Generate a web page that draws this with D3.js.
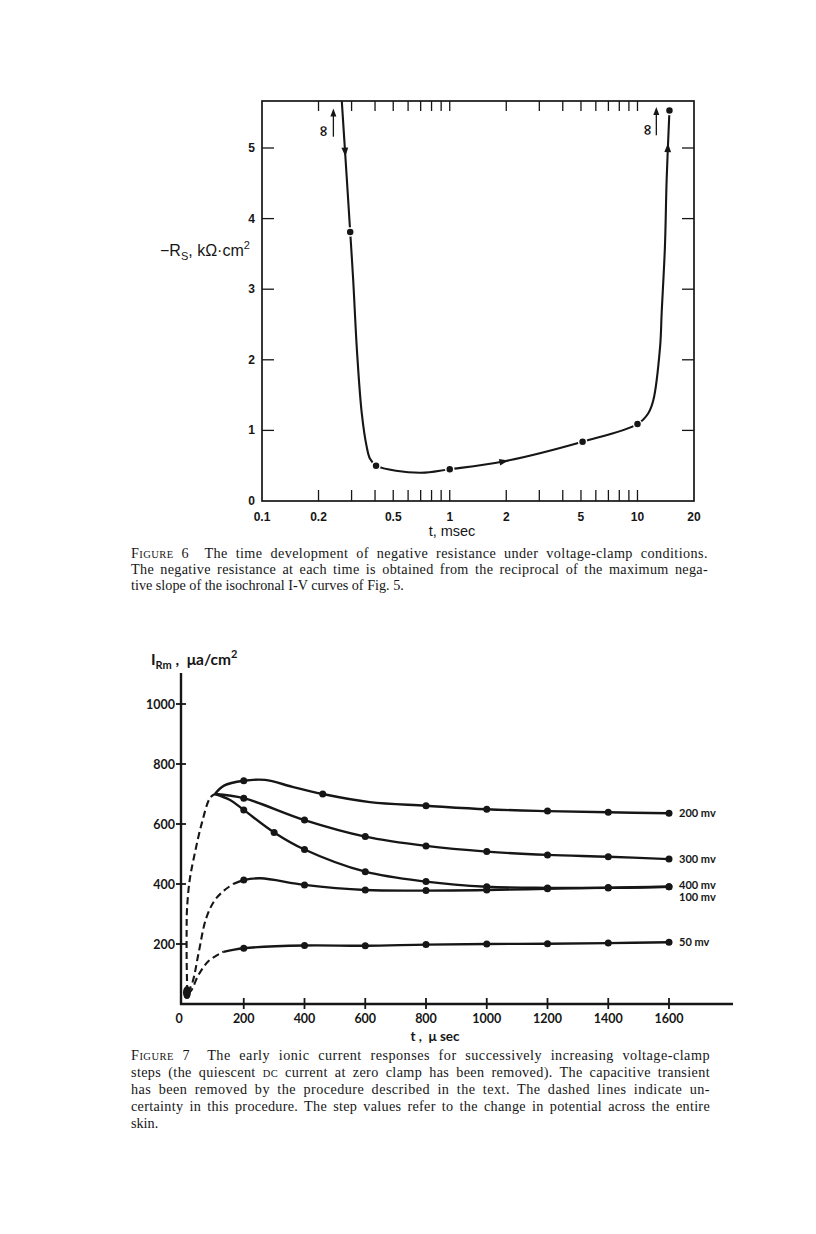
<!DOCTYPE html>
<html>
<head>
<meta charset="utf-8">
<script src="https://cdn.jsdelivr.net/npm/d3@7"></script>
<style>
body { margin: 0; background: #fff; }
svg { display: block; }
</style>
</head>
<body>
<div id="page"></div>
<script>
// ---------- Figure 6 : -Rs (kOhm.cm2) against t (msec), log axis
const f6XLabels = [0.1, 0.2, 0.5, 1, 2, 5, 10, 20];
const f6XMinor = [0.2, 0.3, 0.4, 0.5, 0.6, 0.7, 0.8, 0.9, 1, 2, 3, 4, 5, 6, 7, 8, 9, 10];
const f6YLabels = [0, 1, 2, 3, 4, 5];
const f6Dots = [[0.295, 3.81], [0.405, 0.50], [1.0, 0.45], [5.1, 0.84], [10, 1.09], [14.8, 5.53]];
// extra points
const f6Bends = [[0.266, 5.67], [0.281, 4.69], [0.306, 3.13], [0.321, 2.1], [0.340, 1.24],
  [0.361, 0.77], [0.376, 0.60], [0.694, 0.40], [1.93, 0.56], [11.4, 1.24], [12.15, 1.43],
  [13.2, 2.19], [13.45, 2.66], [14.0, 3.6], [14.3, 4.55]];
const f6Arrows = [[0.276, 4.95], [1.93, 0.56], [14.6, 5.0]];
const f6Infinity = [[0.211, 5.24], [11.2, 5.26]];
const f6InfArrows = [[0.24, 5.16, 5.56], [12.6, 5.18, 5.58]];

// ---------- Figure 7 : I_Rm (ua/cm2) against t (usec)
const f7XTicks = [200, 400, 600, 800, 1000, 1200, 1400, 1600];
const f7XLabels = [0, 200, 400, 600, 800, 1000, 1200, 1400, 1600];
const f7YTicks = [200, 400, 600, 800, 1000];
const stepNames = ['200 mv', '300 mv', '400 mv', '100 mv', '50 mv'];
const dots200 = [[200, 744], [460, 700], [800, 661], [1000, 649], [1200, 643], [1400, 639], [1600, 636]];
const bend200 = [[105, 700], [135, 728], [270, 747], [360, 724], [615, 673]];
const dots300 = [[200, 686], [400, 613], [600, 558], [800, 527], [1000, 508], [1200, 497], [1400, 491], [1600, 483]];
const bend300 = [[105, 700]];
const dots400 = [[200, 647], [300, 572], [400, 515], [600, 441], [800, 408], [1000, 391], [1200, 387], [1400, 387], [1600, 391]];
const bend400 = [[105, 700], [155, 680]];
const dots100 = [[200, 413], [400, 397], [600, 380], [800, 378], [1000, 380], [1200, 384], [1400, 388], [1600, 391]];
const bend100 = [[165, 400], [255, 419]];
const dots50 = [[200, 186], [400, 195], [600, 194], [800, 198], [1000, 200], [1200, 201], [1400, 203], [1600, 206]];
const bend50 = [[133, 174]];
// dashed (uncertain) early parts
const dashPeak = [[14, 40], [12, 150], [12, 250], [13, 313], [22, 413], [39, 503], [62, 603], [89, 687], [105, 700]];
const dash100 = [[16, 38], [32, 75], [51, 168], [76, 285], [104, 345], [135, 378], [165, 400]];
const dash50 = [[16, 36], [27, 45], [51, 97], [85, 144], [133, 174]];
const originBlob = [13, 38];

const W = 816, H = 1234;
const svg = d3.select('#page').append('svg').attr('width', W).attr('height', H);
svg.append('rect').attr('width', W).attr('height', H).attr('fill', '#fff');

const INK = '#161616';
const SANS = '"Liberation Sans", Arial, sans-serif';
const BOLD = 'Lato, "DejaVu Sans", sans-serif';
const SERIF = '"Liberation Serif", "Times New Roman", serif';

const merge = (a, b) => a.concat(b).sort((p, q) => p[0] - q[0]);

// arrowhead placed on a path, pointing along it
function arrowOn(g, path, px, py) {
  const node = path.node(), len = node.getTotalLength();
  let best = 0, bd = Infinity;
  for (let l = 0; l <= len; l += 0.5) {
    const p = node.getPointAtLength(l);
    const d = (p.x - px) ** 2 + (p.y - py) ** 2;
    if (d < bd) { bd = d; best = l; }
  }
  const p = node.getPointAtLength(best);
  const a = node.getPointAtLength(Math.max(0, best - 3));
  const b = node.getPointAtLength(Math.min(len, best + 3));
  const ang = Math.atan2(b.y - a.y, b.x - a.x) * 180 / Math.PI;
  g.append('path').attr('d', 'M5,0L-4,-3.4L-4,3.4Z').attr('fill', INK)
    .attr('transform', `translate(${p.x},${p.y}) rotate(${ang})`);
}

// ================= FIGURE 6 =================
const x6 = d3.scaleLog().domain([0.1, 20]).range([262, 694]);
const y6 = d3.scaleLinear().domain([0, 5]).range([501, 148]);
const f6Top = 101;
const g6 = svg.append('g');

svg.append('defs').append('clipPath').attr('id', 'clip6')
  .append('rect').attr('x', x6(0.1)).attr('y', f6Top).attr('width', x6(20) - x6(0.1)).attr('height', y6(0) - f6Top);

g6.append('rect')
  .attr('x', x6(0.1)).attr('y', f6Top)
  .attr('width', x6(20) - x6(0.1)).attr('height', y6(0) - f6Top)
  .attr('fill', 'none').attr('stroke', INK).attr('stroke-width', 1.7);

// minor ticks, bottom (up) and top (down)
g6.selectAll('.tb').data(f6XMinor).enter().append('line')
  .attr('x1', d => x6(d)).attr('x2', d => x6(d))
  .attr('y1', y6(0)).attr('y2', y6(0) - 11)
  .attr('stroke', INK).attr('stroke-width', 1.3);
g6.selectAll('.tt').data(f6XMinor).enter().append('line')
  .attr('x1', d => x6(d)).attr('x2', d => x6(d))
  .attr('y1', f6Top).attr('y2', f6Top + 10)
  .attr('stroke', INK).attr('stroke-width', 1.3);
// y ticks, left and right, inward
g6.selectAll('.yl').data(f6YLabels.slice(1)).enter().append('line')
  .attr('x1', x6(0.1)).attr('x2', x6(0.1) + 12)
  .attr('y1', d => y6(d)).attr('y2', d => y6(d))
  .attr('stroke', INK).attr('stroke-width', 1.3);
g6.selectAll('.yr').data(f6YLabels.slice(1)).enter().append('line')
  .attr('x1', x6(20)).attr('x2', x6(20) - 12)
  .attr('y1', d => y6(d)).attr('y2', d => y6(d))
  .attr('stroke', INK).attr('stroke-width', 1.3);

g6.selectAll('.xlab').data(f6XLabels).enter().append('text')
  .attr('x', d => x6(d)).attr('y', 521)
  .attr('text-anchor', 'middle').attr('font-family', SANS).attr('font-weight', 'bold')
  .attr('font-size', 12).attr('fill', INK)
  .text(d => d);
g6.selectAll('.ylab').data(f6YLabels).enter().append('text')
  .attr('x', x6(0.1) - 7).attr('y', d => y6(d) + 4)
  .attr('text-anchor', 'end').attr('font-family', SANS).attr('font-weight', 'bold')
  .attr('font-size', 12).attr('fill', INK)
  .text(d => d);

g6.append('text').attr('x', 452).attr('y', 536).attr('text-anchor', 'middle')
  .attr('font-family', SANS).attr('font-size', 14.5).attr('fill', INK).text('t, msec');

const yl6 = g6.append('text').attr('x', 160).attr('y', 256)
  .attr('font-family', SANS).attr('font-size', 16).attr('fill', INK);
yl6.append('tspan').text('\u2212R');
yl6.append('tspan').attr('font-size', 11).attr('dy', 4).text('S');
yl6.append('tspan').attr('dy', -4).text(', k\u03a9\u00b7cm');
yl6.append('tspan').attr('font-size', 11).attr('dy', -7).text('2');

// curve
const line6 = d3.line().x(d => x6(d[0])).y(d => y6(d[1])).curve(d3.curveCatmullRom.alpha(0.5));
const curve6 = g6.append('path').datum(merge(f6Dots, f6Bends))
  .attr('d', line6).attr('clip-path', 'url(#clip6)')
  .attr('fill', 'none').attr('stroke', INK).attr('stroke-width', 2.1);
f6Arrows.forEach(d => arrowOn(g6, curve6, x6(d[0]), y6(d[1])));

g6.selectAll('.dot').data(f6Dots).enter().append('circle')
  .attr('cx', d => x6(d[0])).attr('cy', d => y6(d[1])).attr('r', 4)
  .attr('fill', INK).attr('stroke', '#fff').attr('stroke-width', 1.5);

// infinity marks with upward arrows
g6.selectAll('.inf').data(f6Infinity).enter().append('text')
  .attr('transform', d => `translate(${x6(d[0])},${y6(d[1])}) rotate(-90)`)
  .attr('text-anchor', 'middle').attr('dy', 5)
  .attr('font-family', '"DejaVu Sans", sans-serif').attr('font-weight', 'bold').attr('font-size', 15)
  .attr('fill', INK).text('\u221e');
f6InfArrows.forEach(d => {
  const x = x6(d[0]);
  g6.append('line').attr('x1', x).attr('x2', x).attr('y1', y6(d[1])).attr('y2', y6(d[2]) + 5)
    .attr('stroke', INK).attr('stroke-width', 1.3);
  g6.append('path').attr('d', `M${x},${y6(d[2])}l-3,8h6z`).attr('fill', INK);
});

// ================= FIGURE 7 =================
const x7 = d3.scaleLinear().domain([0, 1600]).range([183, 669]);
const y7 = d3.scaleLinear().domain([0, 1000]).range([1004, 704]);
const g7 = svg.append('g');
const axX = 181, axTop = 673, axRight = 733;

g7.append('line').attr('x1', axX).attr('x2', axX).attr('y1', axTop).attr('y2', y7(0) + 1)
  .attr('stroke', INK).attr('stroke-width', 2.4);
g7.append('line').attr('x1', axX - 1).attr('x2', axRight).attr('y1', y7(0)).attr('y2', y7(0))
  .attr('stroke', INK).attr('stroke-width', 2.4);

g7.selectAll('.yt').data(f7YTicks).enter().append('line')
  .attr('x1', axX - 5).attr('x2', axX + 5).attr('y1', d => y7(d)).attr('y2', d => y7(d))
  .attr('stroke', INK).attr('stroke-width', 1.8);
g7.selectAll('.xt').data(f7XTicks).enter().append('line')
  .attr('x1', d => x7(d)).attr('x2', d => x7(d)).attr('y1', y7(0) - 6).attr('y2', y7(0) + 5)
  .attr('stroke', INK).attr('stroke-width', 1.8);

g7.selectAll('.ylab').data(f7YTicks).enter().append('text')
  .attr('x', axX - 6).attr('y', d => y7(d) + 4.5).attr('text-anchor', 'end')
  .attr('font-family', BOLD).attr('font-weight', 'bold').attr('font-size', 12.5).attr('fill', INK)
  .text(d => d);
g7.selectAll('.xlab').data(f7XLabels).enter().append('text')
  .attr('x', d => d === 0 ? x7(d) - 4 : x7(d)).attr('y', 1023).attr('text-anchor', 'middle')
  .attr('font-family', BOLD).attr('font-weight', 'bold').attr('font-size', 12.5).attr('fill', INK)
  .text(d => d);

g7.append('text').attr('x', 435).attr('y', 1041).attr('text-anchor', 'middle')
  .attr('font-family', BOLD).attr('font-weight', 'bold').attr('font-size', 13.5).attr('fill', INK)
  .attr('xml:space', 'preserve').text('t ,  \u03bc sec');

const yl7 = g7.append('text').attr('x', 151).attr('y', 665)
  .attr('font-family', BOLD).attr('font-weight', 'bold').attr('font-size', 15.5).attr('fill', INK)
  .attr('xml:space', 'preserve');
yl7.append('tspan').text('I');
yl7.append('tspan').attr('font-size', 11).attr('dy', 4).text('Rm');
yl7.append('tspan').attr('dy', -4).text(' ,  \u03bca/cm');
yl7.append('tspan').attr('font-size', 11).attr('dy', -7).text('2');

const line7 = d3.line().x(d => x7(d[0])).y(d => y7(d[1])).curve(d3.curveCatmullRom.alpha(0.5));
const series = [
  { dots: dots200, bends: bend200 },
  { dots: dots300, bends: bend300 },
  { dots: dots400, bends: bend400 },
  { dots: dots100, bends: bend100 },
  { dots: dots50, bends: bend50 }
];
[dashPeak, dash100, dash50].forEach(d => {
  g7.append('path').datum(d).attr('d', line7)
    .attr('fill', 'none').attr('stroke', INK).attr('stroke-width', 2.1)
    .attr('stroke-dasharray', '7,4');
});
g7.append('ellipse').attr('cx', x7(originBlob[0])).attr('cy', y7(originBlob[1]))
  .attr('rx', 4).attr('ry', 6.5).attr('fill', INK);

series.forEach(s => {
  g7.append('path').datum(merge(s.dots, s.bends)).attr('d', line7)
    .attr('fill', 'none').attr('stroke', INK).attr('stroke-width', 2.4);
  g7.selectAll(null).data(s.dots).enter().append('circle')
    .attr('cx', d => x7(d[0])).attr('cy', d => y7(d[1])).attr('r', 3.5).attr('fill', INK);
});

// step labels next to the last points
const labelYs = [dots200, dots300, dots400, dots100, dots50].map(d => d[d.length - 1][1]);
const labelDy = [4, 4, 2.5, 14, 4];
g7.selectAll('.step').data(stepNames).enter().append('text')
  .attr('x', x7(1600) + 10).attr('y', (d, i) => y7(labelYs[i]) + labelDy[i])
  .attr('font-family', BOLD).attr('font-weight', 'bold').attr('font-size', 11).attr('fill', INK)
  .text(d => d);

// ================= captions =================
function caption(lines, x0, x1, y0, lh) {
  lines.forEach((segs, i) => {
    const t = svg.append('text').attr('x', x0).attr('y', y0 + i * lh)
      .attr('font-family', SERIF).attr('font-size', 14.2).attr('fill', INK)
      .attr('xml:space', 'preserve');
    let plain = '';
    segs.forEach(s => {
      if (s.sc) {
        if (s.allSmall) t.append('tspan').attr('font-size', 10.5).text(s.sc.toUpperCase());
        else {
          t.append('tspan').text(s.sc[0]);
          t.append('tspan').attr('font-size', 10.5).text(s.sc.slice(1).toUpperCase());
        }
        plain += s.sc;
      } else { t.append('tspan').text(s); plain += s; }
    });
    if (i < lines.length - 1) {
      // justify: share the missing width between letters and word gaps
      const gaps = (plain.match(/ /g) || []).length;
      const extra = (x1 - x0) - t.node().getComputedTextLength();
      const ls = Math.max(0, extra * 0.45 / plain.length);
      t.attr('letter-spacing', ls);
      const rest = (x1 - x0) - t.node().getComputedTextLength();
      t.attr('word-spacing', rest / gaps);
    }
  });
}
caption([
  [{ sc: 'Figure' }, ' 6  The time development of negative resistance under voltage-clamp conditions.'],
  ['The negative resistance at each time is obtained from the reciprocal of the maximum nega-'],
  ['tive slope of the isochronal I-V curves of Fig. 5.']
], 131, 708, 558, 16);
caption([
  [{ sc: 'Figure' }, ' 7  The early ionic current responses for successively increasing voltage-clamp'],
  ['steps (the quiescent ', { sc: 'dc', allSmall: true }, ' current at zero clamp has been removed). The capacitive transient'],
  ['has been removed by the procedure described in the text. The dashed lines indicate un-'],
  ['certainty in this procedure. The step values refer to the change in potential across the entire'],
  ['skin.']
], 131, 710, 1060, 17);
</script>
</body>
</html>
